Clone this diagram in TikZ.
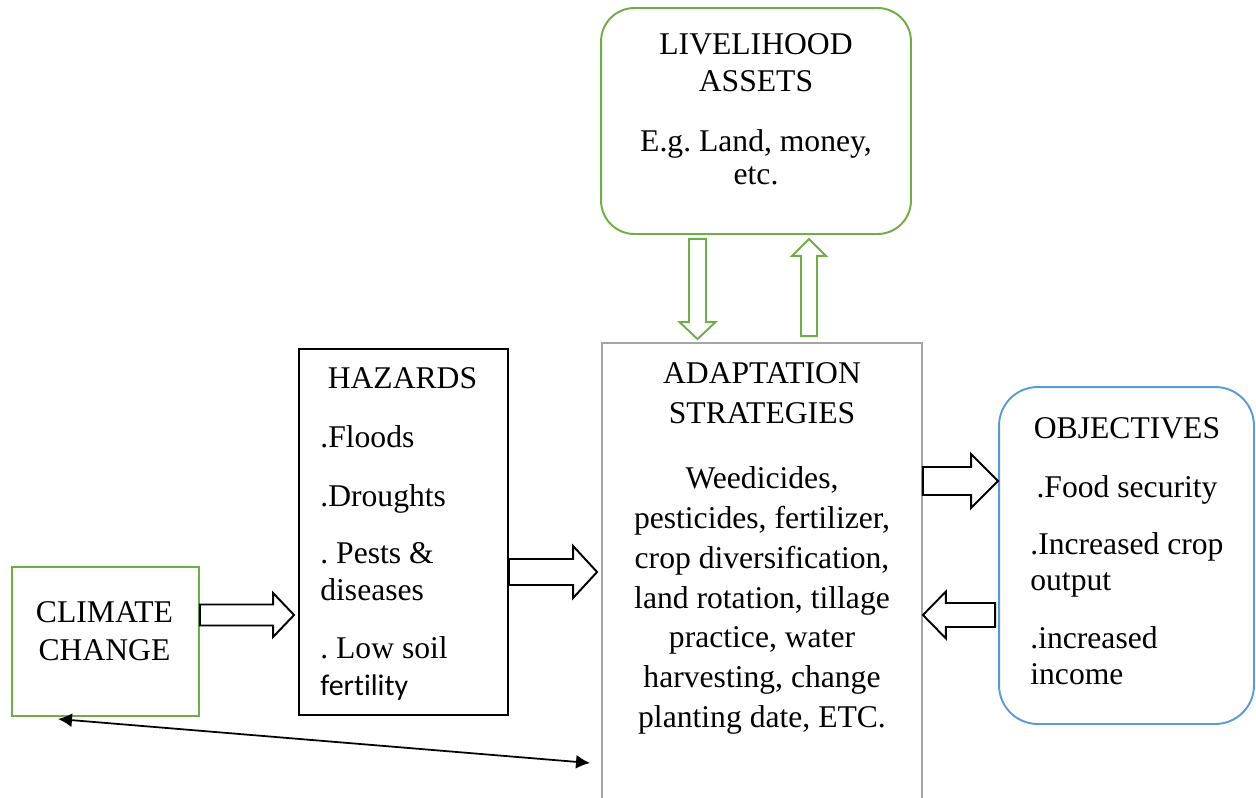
\documentclass[tikz,border=0pt]{standalone}
\usepackage{fontspec}
\setmainfont{Liberation Serif}
\newfontfamily\carlito[Ligatures=NoCommon]{Carlito}
\usepackage{tikz}
\usetikzlibrary{calc,arrows.meta}
\usepackage{xcolor}
\frenchspacing

\definecolor{leafgreen}{HTML}{70AD47}
\definecolor{skyblue}{HTML}{5B9BD5}
\definecolor{framegray}{HTML}{A5A5A5}

\tikzset{
  boxline/.style={draw,line width=1.1pt,inner sep=0pt},
  txt/.style={inner sep=0pt,anchor=base,font=\fontsize{18}{21}\selectfont},
  txtl/.style={txt,anchor=base west}
}

% hollow block arrow: [colour]{start}{tip}{half shaft}{half head}{head length}
\newcommand{\blockarrow}[6][black]{%
  \coordinate (ba-s) at (#2);
  \coordinate (ba-t) at (#3);
  \coordinate (ba-h) at ($(ba-t)!#6!(ba-s)$);
  \draw[line width=1.1pt,draw=#1,line join=miter]
    ($(ba-s)!#4!90:(ba-t)$) -- ($(ba-h)!#4!90:(ba-t)$) -- ($(ba-h)!#5!90:(ba-t)$) -- (ba-t)
    -- ($(ba-h)!#5!-90:(ba-t)$) -- ($(ba-h)!#4!-90:(ba-t)$) -- ($(ba-s)!#4!-90:(ba-t)$) -- cycle;
}

\begin{document}
\begin{tikzpicture}[x=0.02cm,y=-0.02cm]
\useasboundingbox (0,0) rectangle (1256,797);

% boxes
\node[boxline,draw=leafgreen,rounded corners=19pt,minimum width=6.2cm,minimum height=4.52cm] (liv) at (756,121) {};
\node[boxline,draw=leafgreen,minimum width=3.74cm,minimum height=2.98cm] (cc) at (105.5,641.5) {};
\node[boxline,draw=black,minimum width=4.18cm,minimum height=7.32cm] (haz) at (403.5,532) {};
\node[boxline,draw=framegray,minimum width=6.4cm,minimum height=9.74cm] (ada) at (762,586.5) {};
\node[boxline,draw=skyblue,rounded corners=22pt,minimum width=5.1cm,minimum height=6.74cm] (obj) at (1126.5,555.5) {};

% livelihood assets
\node[txt] (livt1) at (756,55) {LIVELIHOOD};
\node[txt] (livt2) at (756,92) {ASSETS};
\node[txt] (livt3) at (756,152) {E.g. Land, money,};
\node[txt] (livt4) at (756,185) {etc.};

% climate change
\node[txt] (cct1) at (104.5,622) {CLIMATE};
\node[txt] (cct2) at (104.5,660) {CHANGE};

% hazards
\node[txt] (hazt) at (402.5,388) {HAZARDS};
\node[txtl] (haz1) at (320,447) {.Floods};
\node[txtl] (haz2) at (320,506) {.Droughts};
\node[txtl] (haz3) at (320,563) {. Pests \&};
\node[txtl] (haz4) at (320,600) {diseases};
\node[txtl] (haz5) at (320,658) {. Low soil};
\node[txtl,font=\carlito\fontsize{17}{20}\selectfont] (haz6) at (320,695) {fertility};

% adaptation strategies
\node[txt] (adat1) at (762,383) {ADAPTATION};
\node[txt] (adat2) at (762,423) {STRATEGIES};
\node[txt] (ada1) at (762,488) {Weedicides,};
\node[txt] (ada2) at (762,528) {pesticides, fertilizer,};
\node[txt] (ada3) at (762,568) {crop diversification,};
\node[txt] (ada4) at (762,608) {land rotation, tillage};
\node[txt] (ada5) at (762,647) {practice, water};
\node[txt] (ada6) at (762,687) {harvesting, change};
\node[txt] (ada7) at (762,727) {planting date, ETC.};

% objectives
\node[txt] (objt) at (1127,438) {OBJECTIVES};
\node[txt] (obj1) at (1127,497) {.Food security};
\node[txtl] (obj2) at (1030,554) {.Increased crop};
\node[txtl] (obj3) at (1030,590) {output};
\node[txtl] (obj4) at (1030,648) {.increased};
\node[txtl] (obj5) at (1030,684) {income};

% block arrows
\blockarrow{cc.east |- 0,615}{$(haz.west |- 0,615)+(-4,0)$}{2.1mm}{4.4mm}{4.2mm}
\blockarrow{haz.east |- 0,572}{$(ada.west |- 0,572)+(-4,0)$}{2.6mm}{5.2mm}{4.8mm}
\blockarrow{ada.east |- 0,481}{obj.west |- 0,481}{2.8mm}{5.4mm}{5.4mm}
\blockarrow{$(obj.west |- 0,615)+(-3,0)$}{ada.east |- 0,615}{2.4mm}{4.7mm}{4.6mm}
\blockarrow[leafgreen]{$(liv.south -| 697.5,0)+(0,4)$}{$(ada.north -| 697.5,0)+(0,-3)$}{1.7mm}{3.6mm}{3.4mm}
\blockarrow[leafgreen]{$(ada.north -| 809,0)+(0,-6)$}{$(liv.south -| 809,0)+(0,4)$}{1.6mm}{3.4mm}{3.4mm}

% link back to climate change
\coordinate (ccfoot) at (58,719);
\coordinate (adafoot) at (590,763);
\draw[line width=1pt,{Latex[length=2.8mm,width=2.8mm]}-{Latex[length=2.8mm,width=2.8mm]}] (ccfoot) -- (adafoot);
\end{tikzpicture}
\end{document}
